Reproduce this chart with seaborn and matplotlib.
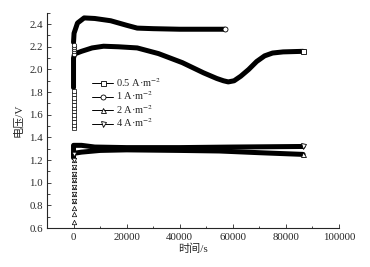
import matplotlib
matplotlib.use("Agg")
import matplotlib.pyplot as plt
from matplotlib.lines import Line2D
from matplotlib.ticker import MultipleLocator
import seaborn as sns

# startup markers (vertical rise at t = 0)
v05_start = [1.48, 1.51, 1.54, 1.57, 1.60, 1.63, 1.66, 1.69, 1.72, 1.75, 1.78, 1.81]
v1_start = [2.14, 2.16, 2.18, 2.20, 2.22]
v2_start = [0.65, 0.72, 0.78, 0.84, 0.90, 0.96, 1.02, 1.08, 1.14, 1.20]
v4_start = [0.84, 0.90, 0.96, 1.02, 1.08, 1.14, 1.20, 1.25]

# main curves
t05 = [0, 0, 300, 750, 3000, 7000, 11300, 17000, 24000, 32000, 41000, 49000,
       54000, 56500, 58300, 60500, 63000, 66000, 69000, 72000, 75000, 79000, 86500]
v05 = [1.84, 2.10, 2.13, 2.14, 2.16, 2.19, 2.205, 2.20, 2.19, 2.14, 2.06, 1.97,
       1.92, 1.90, 1.89, 1.90, 1.94, 2.00, 2.07, 2.12, 2.145, 2.155, 2.16]

t1 = [0, 200, 1500, 4000, 8000, 14000, 20000, 24000, 30000, 40000, 50000, 57000]
v1 = [2.24, 2.32, 2.41, 2.455, 2.45, 2.43, 2.39, 2.365, 2.36, 2.355, 2.355, 2.355]

t2 = [0, 0, 300, 3000, 10000, 20000, 40000, 55000, 70000, 86500]
v2 = [1.22, 1.26, 1.26, 1.27, 1.285, 1.29, 1.285, 1.28, 1.265, 1.25]

t4 = [0, 0, 3000, 8000, 20000, 40000, 60000, 86500]
v4 = [1.25, 1.33, 1.33, 1.315, 1.31, 1.31, 1.315, 1.32]

labels = ["0.5 A·m$^{-2}$", "1 A·m$^{-2}$", "2 A·m$^{-2}$", "4 A·m$^{-2}$"]
markers = ["s", "o", "^", "v"]

sns.set_style("ticks")
plt.rcParams['font.family'] = ['Liberation Serif', 'Noto Sans CJK SC']
plt.rcParams['mathtext.fontset'] = 'stix'
plt.rcParams['font.size'] = 7.8

fig = plt.figure(figsize=(3.7, 2.67), dpi=100)
ax = fig.add_axes([0.127, 0.146, 0.789, 0.806])

series = [(t05, v05, v05_start), (t1, v1, v1_start), (t2, v2, v2_start), (t4, v4, v4_start)]
for (t, v, vs), m in zip(series, markers):
    sns.lineplot(x=t, y=v, ax=ax, color='black', lw=3.6, sort=False, estimator=None)
    ax.plot([0] * len(vs), vs, ls='none', marker=m, ms=3.2, mfc='white',
            mec='black', mew=0.5)
    ax.plot([t[-1]], [v[-1]], ls='none', marker=m, ms=3.6, mfc='white',
            mec='black', mew=0.6)

ax.set_xlim(-10000, 100000)
ax.set_ylim(0.6, 2.5)
ax.xaxis.set_major_locator(MultipleLocator(20000))
ax.xaxis.set_minor_locator(MultipleLocator(10000))
ax.yaxis.set_minor_locator(MultipleLocator(0.1))
ax.set_yticks([0.6, 0.8, 1.0, 1.2, 1.4, 1.6, 1.8, 2.0, 2.2, 2.4])
ax.tick_params(which='major', direction='in', length=3, width=0.6, labelsize=7.8)
ax.tick_params(axis='x', which='major', pad=3.5)
ax.tick_params(axis='y', which='major', pad=3)
ax.tick_params(which='minor', direction='in', length=1.8, width=0.6)
sns.despine(ax=ax)
for s in ['left', 'bottom']:
    ax.spines[s].set_linewidth(0.8)

ax.set_xlabel("时间/s", fontsize=8, labelpad=1)
ax.set_ylabel("电压/V", fontsize=8, labelpad=4)

handles = [Line2D([], [], color='black', lw=0.7, marker=m, ms=3.6, mfc='white',
                  mec='black', mew=0.6) for m in markers]
ax.legend(handles, labels, loc='upper left', bbox_to_anchor=(0.13, 0.74),
          frameon=False, fontsize=7.5, handlelength=2.0, handletextpad=0.3,
          labelspacing=0.05, borderpad=0.2)

fig.savefig("out.png", dpi=100)
